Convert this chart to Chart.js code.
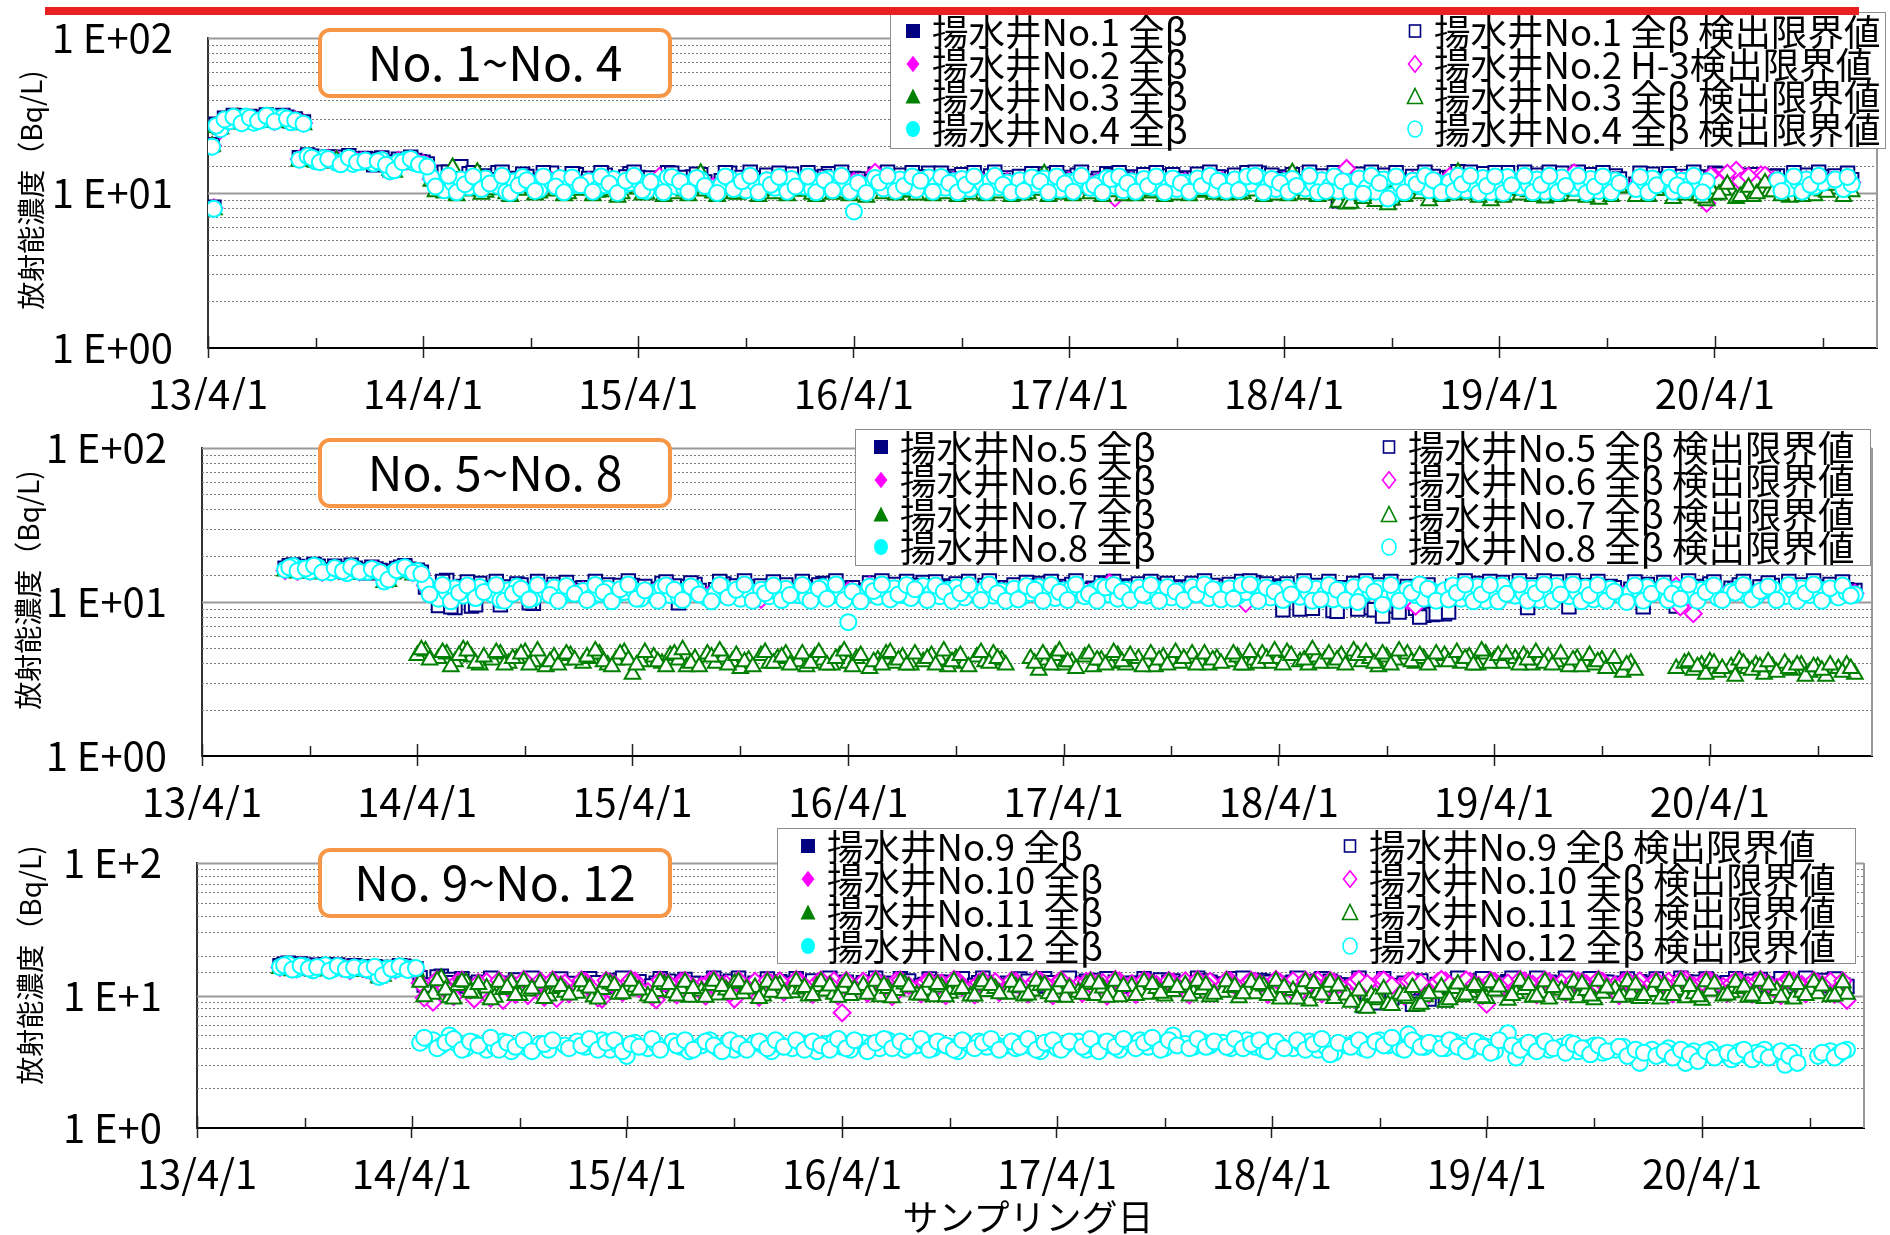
<!DOCTYPE html>
<html lang="ja">
<head>
<meta charset="utf-8">
<title>揚水井 全β 分析結果</title>
<script src="https://cdn.jsdelivr.net/npm/chart.js"></script>
<style>
  html, body { margin: 0; padding: 0; background: #fff; }
  body { position: relative; width: 1890px; height: 1235px; overflow: hidden;
         font-family: "Noto Sans CJK JP", sans-serif; color: #000; }
  .panel { position: absolute; left: 0; }
  .redline { position: absolute; left: 45px; top: 7px; width: 1814px; height: 8px; background: #e8201f; }
  .legend { position: absolute; background: #fff; border: 1.5px solid #8c8c8c; box-sizing: border-box; }
  .legend .item { position: absolute; height: 40px; display: flex; align-items: center; white-space: nowrap; }
  .legend .item span { font-size: 36.5px; line-height: 40px; margin-left: 10px; }
  .tag { position: absolute; left: 318px; width: 354px; height: 70px; box-sizing: border-box;
         border: 4px solid #f79646; border-radius: 12px; background: #fff;
         font-size: 48px; line-height: 57px; text-align: center; white-space: nowrap; }
  .ytitle { position: absolute; font-size: 28px; line-height: 1; white-space: nowrap;
            transform: translate(-50%, -50%) rotate(-90deg); }
  .xtitle { position: absolute; left: 1028px; top: 1215px; font-size: 36px; line-height: 1;
            white-space: nowrap; transform: translate(-50%, -50%); }
</style>
</head>
<body>
<canvas id="c1" class="panel" width="1890" height="410" style="top:0px"></canvas>
<canvas id="c2" class="panel" width="1890" height="410" style="top:410px"></canvas>
<canvas id="c3" class="panel" width="1890" height="415" style="top:820px"></canvas>

<div class="tag" style="top:28px">No. 1~No. 4</div>
<div class="tag" style="top:438px">No. 5~No. 8</div>
<div class="tag" style="top:848px">No. 9~No. 12</div>

<div class="ytitle" style="left:30px; top:190px">放射能濃度（Bq/L)</div>
<div class="ytitle" style="left:27px; top:590px">放射能濃度（Bq/L)</div>
<div class="ytitle" style="left:29px; top:965px">放射能濃度（Bq/L)</div>
<div class="xtitle">サンプリング日</div>

<script>
// サンプリング日 (yy/m/d) — 1回目
const sampleDates = [
  "13/4/8","13/4/11","13/4/22","13/5/7","13/5/21","13/6/4","13/6/18","13/7/2","13/7/16","13/8/6","13/8/20","13/9/3","13/9/17","13/10/1","13/10/15","13/11/5","13/11/19","13/12/3","13/12/17",
  "14/1/7","14/1/21","14/2/4","14/2/18","14/3/4","14/3/18","14/4/1","14/4/15","14/5/7","14/5/21","14/6/4","14/6/18","14/7/2","14/7/16","14/8/6","14/8/20","14/9/3","14/9/17","14/10/1","14/10/15","14/11/5","14/11/19","14/12/3","14/12/17",
  "15/1/7","15/1/21","15/2/4","15/2/18","15/3/4","15/3/18","15/4/1","15/4/15","15/5/7","15/5/21","15/6/4","15/6/18","15/7/2","15/7/16","15/8/6","15/8/20","15/9/3","15/9/17","15/10/1","15/10/15","15/11/5","15/11/19","15/12/3","15/12/17",
  "16/1/7","16/1/21","16/2/4","16/2/18","16/3/4","16/3/18","16/4/1","16/4/15","16/5/7","16/5/21","16/6/4","16/6/18","16/7/2","16/7/16","16/8/6","16/8/20","16/9/3","16/9/17","16/10/1","16/10/15","16/11/5","16/11/19","16/12/3","16/12/17",
  "17/1/7","17/1/21","17/2/4","17/2/18","17/3/4","17/3/18","17/4/1","17/4/15","17/5/7","17/5/21","17/6/4","17/6/18","17/7/2","17/7/16","17/8/6","17/8/20","17/9/3","17/9/17","17/10/1","17/10/15","17/11/5","17/11/19","17/12/3","17/12/17",
  "18/1/7","18/1/21","18/2/4","18/2/18","18/3/4","18/3/18","18/4/1","18/4/15","18/5/7","18/5/21","18/6/4","18/6/18","18/7/2","18/7/16","18/8/6","18/8/20","18/9/3","18/9/17","18/10/1","18/10/15","18/11/5","18/11/19","18/12/3","18/12/17",
  "19/1/7","19/1/21","19/2/4","19/2/18","19/3/4","19/3/18","19/4/1","19/4/15","19/5/7","19/5/21","19/6/4","19/6/18","19/7/2","19/7/16","19/8/6","19/8/20","19/9/3","19/9/17","19/10/1","19/10/15","19/11/5","19/11/19","19/12/3","19/12/17",
  "20/1/7","20/1/21","20/2/4","20/2/18","20/3/4","20/3/18","20/4/1","20/4/15","20/5/7","20/5/21","20/6/4","20/6/18","20/7/2","20/7/16","20/8/6","20/8/20","20/9/3","20/9/17","20/10/1","20/10/15","20/11/5","20/11/19","20/12/3"
];
// サンプリング日 — 2回目 (各週の間)
const sampleDatesB = [
  "13/4/15","13/4/29","13/5/14","13/5/28","13/6/11","13/6/25","13/7/9","13/7/23","13/8/13","13/8/27","13/9/10","13/9/24","13/10/8","13/10/22","13/11/12","13/11/26","13/12/10","13/12/24",
  "14/1/14","14/1/28","14/2/11","14/2/25","14/3/11","14/3/25","14/4/8","14/4/22","14/5/14","14/5/28","14/6/11","14/6/25","14/7/9","14/7/23","14/8/13","14/8/27","14/9/10","14/9/24","14/10/8","14/10/22","14/11/12","14/11/26","14/12/10","14/12/24",
  "15/1/14","15/1/28","15/2/11","15/2/25","15/3/11","15/3/25","15/4/8","15/4/22","15/5/14","15/5/28","15/6/11","15/6/25","15/7/9","15/7/23","15/8/13","15/8/27","15/9/10","15/9/24","15/10/8","15/10/22","15/11/12","15/11/26","15/12/10","15/12/24",
  "16/1/14","16/1/28","16/2/11","16/2/25","16/3/11","16/3/25","16/4/8","16/4/22","16/5/14","16/5/28","16/6/11","16/6/25","16/7/9","16/7/23","16/8/13","16/8/27","16/9/10","16/9/24","16/10/8","16/10/22","16/11/12","16/11/26","16/12/10","16/12/24",
  "17/1/14","17/1/28","17/2/11","17/2/25","17/3/11","17/3/25","17/4/8","17/4/22","17/5/14","17/5/28","17/6/11","17/6/25","17/7/9","17/7/23","17/8/13","17/8/27","17/9/10","17/9/24","17/10/8","17/10/22","17/11/12","17/11/26","17/12/10","17/12/24",
  "18/1/14","18/1/28","18/2/11","18/2/25","18/3/11","18/3/25","18/4/8","18/4/22","18/5/14","18/5/28","18/6/11","18/6/25","18/7/9","18/7/23","18/8/13","18/8/27","18/9/10","18/9/24","18/10/8","18/10/22","18/11/12","18/11/26","18/12/10","18/12/24",
  "19/1/14","19/1/28","19/2/11","19/2/25","19/3/11","19/3/25","19/4/8","19/4/22","19/5/14","19/5/28","19/6/11","19/6/25","19/7/9","19/7/23","19/8/13","19/8/27","19/9/10","19/9/24","19/10/8","19/10/22","19/11/12","19/11/26","19/12/10","19/12/24",
  "20/1/14","20/1/28","20/2/11","20/2/25","20/3/11","20/3/25","20/4/8","20/4/22","20/5/14","20/5/28","20/6/11","20/6/25","20/7/9","20/7/23","20/8/13","20/8/27","20/9/10","20/9/24","20/10/8","20/10/22","20/11/12","20/11/26"
];

const xTickLabels = ["13/4/1","14/4/1","15/4/1","16/4/1","17/4/1","18/4/1","19/4/1","20/4/1"];
const xMinorTicks = ["13/10/1","14/10/1","15/10/1","16/10/1","17/10/1","18/10/1","19/10/1","20/10/1"];
const xMax = "21/1/1";
const yDecades = [1, 10, 100];
const yLabelsE2 = ["1 E+00", "1 E+01", "1 E+02"];
const yLabelsE1 = ["1 E+0", "1 E+1", "1 E+2"];

// 凡例
const p1Labels = ["揚水井No.1 全β", "揚水井No.2 全β", "揚水井No.3 全β", "揚水井No.4 全β",
  "揚水井No.1 全β 検出限界値", "揚水井No.2 H-3検出限界値", "揚水井No.3 全β 検出限界値", "揚水井No.4 全β 検出限界値"];
const p2Labels = ["揚水井No.5 全β", "揚水井No.6 全β", "揚水井No.7 全β", "揚水井No.8 全β",
  "揚水井No.5 全β 検出限界値", "揚水井No.6 全β 検出限界値", "揚水井No.7 全β 検出限界値", "揚水井No.8 全β 検出限界値"];
const p3Labels = ["揚水井No.9 全β", "揚水井No.10 全β", "揚水井No.11 全β", "揚水井No.12 全β",
  "揚水井No.9 全β 検出限界値", "揚水井No.10 全β 検出限界値", "揚水井No.11 全β 検出限界値", "揚水井No.12 全β 検出限界値"];

// 全β 検出値 (検出なし)
const p1Detect = [[], [], [], []];
const p2Detect = [[], [], [], []];
const p3Detect = [[], [], [], []];

// 全β 検出限界値 (Bq/L) — sampleDates の順
const no1Limit = [
  20.5,8.1,26.5,29.5,31.5,30.0, 29.0,30.8,30.2,31.6,29.1,16.9, 17.6,16.5,16.2,17.0,15.8,16.0, 16.6,
  15.2,16.8,14.1,16.5,15.9,16.2, 15.8,13.4,13.6,11.2,14.8,13.3, 11.6,12.9,13.5,11.0,12.4,13.2, 11.8,12.1,13.4,11.5,12.0,13.1,
  12.4,11.3,13.0,12.1,11.7,13.3, 12.6,11.1,12.2,13.5,11.9,11.4, 12.7,13.1,11.2,12.0,13.4,11.8, 11.3,12.5,13.0,11.6,12.3,13.2,
  11.8,11.4,12.6,13.3,11.6,12.1, 12.4,11.9,13.2,11.5,12.5,13.0, 11.7,11.3,13.4,12.2,11.6,12.8, 13.1,11.4,12.3,12.9,11.7,12.5,
  12.8,11.5,12.1,13.2,11.8,11.3, 12.6,13.0,11.6,12.4,13.3,11.9, 11.2,12.7,13.1,11.7,12.2,12.9, 11.4,12.5,13.2,12.0,11.3,12.6,
  13.0,11.6,12.3,13.4,11.8,11.4, 12.7,13.1,11.5,12.2,12.9,11.9, 8.9,12.6,13.2,11.7,10.9,13.0, 9.3,12.1,12.8,11.8,11.2,12.5,
  12.6,13.7,11.2,12.0,13.3,10.9, 12.4,13.5,11.7,12.1,13.0,11.0, 12.5,13.4,11.6,12.2,13.1,11.1, 12.7,12.9,null,11.4,12.6,13.2,
  12.3,11.0,12.8,12.1,11.6,12.7, 13.4,12.2,13.1,12.5,11.8,13.0, 12.6,12.9,11.5,12.6,13.0,11.8, 12.4,12.7,11.4,12.2,null
];
const no2Limit = [
  20.2,8.0,25.5,29.8,30.8,29.7, 28.8,30.4,30.9,30.1,28.9,16.6, 17.0,16.2,16.5,16.6,16.0,15.6, 16.1,
  15.6,16.5,13.9,16.2,16.1,15.9, 15.5,12.3,11.4,12.0,11.9,11.2, 12.1,11.7,11.5,10.8,11.6,12.2, 11.4,10.9,12.0,11.8,11.1,11.6,
  12.0,11.0,11.6,12.0,11.3,11.9, 12.2,10.9,12.8,12.3,11.4,11.1, 12.0,12.1,11.0,11.7,12.2,11.5, 10.9,11.9,12.0,11.3,11.8,12.1,
  11.4,11.1,12.0,12.2,11.3,11.6, 11.9,11.5,13.6,11.2,12.0,12.1, 11.5,11.0,12.4,11.8,11.3,12.0, 12.2,11.1,11.8,12.0,11.4,11.9,
  12.0,11.3,11.7,12.3,11.5,11.0, 12.0,12.1,11.2,11.8,12.3,9.3, 10.9,12.0,12.2,11.4,11.7,12.0, 11.1,11.9,12.2,11.6,11.0,12.0,
  12.1,11.3,11.8,12.4,11.5,11.1, 12.0,12.2,11.2,11.7,12.0,11.6, 10.9,14.4,12.2,11.4,11.9,12.0, 11.0,11.7,12.1,11.5,11.0,11.9,
  12.8,12.2,11.0,11.7,12.2,10.8, 11.9,12.3,11.3,11.8,12.1,10.9, 11.9,12.2,13.5,11.8,12.2,10.9, 12.0,12.1,null,11.2,12.0,12.3,
  12.0,10.9,12.1,11.8,11.3,8.6, 12.6,11.0,14.0,12.2,11.3,13.1, 11.6,12.0,11.1,11.9,12.2,11.2, 11.8,12.0,11.1,11.7,null
];
const no3Limit = [
  20.0,7.8,26.0,28.6,30.5,29.2, 29.6,30.1,30.6,29.5,28.4,16.0, 16.9,15.8,16.1,16.3,15.5,15.7, 15.3,
  15.4,16.0,14.0,15.6,16.0,15.4, 15.0,11.9,10.0,14.6,11.5,10.3, 13.6,10.1,11.3,9.9,10.6,11.6, 10.7,10.0,11.1,10.4,9.9,10.8,
  10.5,10.1,11.0,10.2,9.9,10.9, 10.6,9.8,10.7,11.1,9.9,10.3, 10.8,13.4,10.0,10.6,10.9,9.8, 10.2,11.0,10.4,9.9,10.7,11.2,
  10.3,9.8,10.8,11.1,10.0,10.5, 10.9,10.2,11.0,9.9,10.6,10.9, 10.1,9.7,11.2,10.4,9.9,10.8, 11.0,9.8,10.5,10.9,10.0,10.6,
  10.7,9.9,10.4,13.3,10.1,9.8, 10.6,10.9,9.9,10.5,11.1,10.2, 9.6,10.8,11.0,10.0,10.4,10.7, 9.7,10.6,11.0,10.1,9.8,10.5,
  10.8,9.9,10.3,11.2,10.0,9.7, 10.6,13.5,9.8,10.4,10.9,10.2, 8.7,8.5,10.8,9.6,8.8,10.6, 9.0,10.2,10.7,9.9,8.9,10.4,
  10.6,13.6,9.8,10.3,10.9,8.9, 10.4,11.0,9.7,10.2,10.8,9.3, 10.5,10.9,9.6,10.3,10.7,9.1, 10.6,10.8,null,9.5,10.5,10.9,
  10.4,9.2,10.8,10.3,9.6,8.9, 9.7,10.4,9.2,10.1,9.5,10.6, 10.2,10.7,9.4,10.5,10.9,9.6, 10.3,10.6,9.5,10.2,null
];
const no4Limit = [
  19.9,7.9,25.8,29.0,30.2,31.2, 28.4,29.6,31.3,30.8,28.6,16.4, 17.3,16.0,16.8,15.7,16.2,15.4, 15.9,
  15.5,16.3,13.8,15.9,16.4,15.6, 15.2,12.6,10.4,11.6,12.2,10.9, 11.8,12.4,11.1,10.2,11.9,12.7, 11.3,10.5,11.8,12.5,10.8,11.4,
  11.9,10.6,11.2,12.3,10.9,11.6, 12.0,10.3,11.4,12.6,11.0,10.7, 11.8,12.2,10.5,11.3,12.4,11.1, 10.4,11.7,12.1,10.8,11.5,12.3,
  11.0,10.6,11.9,12.4,10.9,11.3, 7.6,11.2,12.5,10.7,11.8,12.2, 11.0,10.5,12.6,11.4,10.8,11.9, 12.3,10.6,11.5,12.0,10.9,11.7,
  12.1,10.7,11.3,12.4,11.0,10.5, 11.8,12.2,10.8,11.6,12.5,11.1, 10.4,11.9,12.3,10.9,11.4,12.0, 10.6,11.7,12.4,11.2,10.5,11.8,
  12.2,10.8,11.5,12.6,11.0,10.6, 11.9,12.3,10.7,11.4,12.1,11.1, 10.3,11.8,12.4,10.9,10.2,12.2, 9.6,11.3,12.0,11.0,10.4,11.7,
  11.8,12.9,10.4,11.2,12.5,10.1, 11.6,12.7,10.9,11.3,12.2,10.2, 11.7,12.6,10.8,11.4,12.3,10.3, 11.9,12.1,null,10.6,11.8,12.4,
  11.5,10.2,12.0,11.3,10.8,11.9, null,null,null,null,null,null, null,12.1,10.7,11.8,12.2,11.0, 11.6,null,10.6,11.4,null
];
const no5Limit = [
  null,null,null,null,null,null, null,null,null,null,16.6,17.4, 16.0,16.2,17.1,16.0,15.8,15.9, 16.6,
  15.5,16.4,13.9,15.8,16.8,16.3, 16.1,12.5,9.5,13.8,9.2,12.6, 9.4,13.2,11.8,9.6,12.5,13.1, 11.9,9.8,12.3,13.0,11.4,12.2,
  12.4,11.2,12.0,12.9,11.6,12.3, 12.8,11.1,12.1,13.2,11.7,9.9, 12.6,13.0,11.2,12.0,13.1,11.8, 11.1,12.5,12.7,11.5,12.2,12.9,
  11.7,11.3,12.5,13.2,11.6,12.0, 12.3,11.9,13.3,11.4,12.6,13.0, 11.7,11.2,13.4,12.1,11.5,12.7, 13.1,11.3,12.2,12.8,11.6,12.4,
  12.9,11.4,12.0,13.2,11.7,11.2, 12.6,13.0,11.5,12.3,13.3,11.8, 11.1,12.7,13.1,11.6,12.1,12.8, 11.3,12.5,13.2,11.9,11.2,12.6,
  13.0,11.5,12.2,13.4,11.7,11.3, 12.7,13.1,9.0,12.0,12.8,11.8, 8.8,12.4,13.2,9.2,12.3,12.9, 9.4,11.9,12.6,9.1,8.2,8.3,
  8.4,12.6,11.0,11.7,13.2,10.6, 12.2,13.4,11.5,11.9,12.9,10.8, 12.3,13.5,9.3,12.0,12.8,10.7, 12.4,12.6,11.3,12.1,12.3,13.0,
  12.1,10.9,9.4,12.0,11.5,12.6, 13.1,11.2,12.3,12.9,11.6,11.4, 12.5,12.8,11.3,12.4,12.9,11.6, 12.2,12.5,11.2,12.0,11.9
];
const no6Limit = [
  null,null,null,null,null,null, null,null,null,null,16.0,16.9, 16.3,15.9,16.5,15.7,16.0,15.6, 16.1,
  15.9,16.2,13.9,15.6,16.3,15.8, 15.7,12.8,11.0,11.8,12.0,11.3, 12.0,12.2,11.5,10.9,11.8,12.3, 11.6,11.0,11.9,12.1,11.2,11.7,
  11.9,11.0,11.5,12.0,11.2,11.8, 12.0,11.0,11.6,12.2,12.6,11.1, 11.8,12.1,11.0,11.6,12.0,11.3, 10.9,11.8,10.4,11.1,11.7,12.0,
  11.3,11.0,11.8,12.1,11.2,11.6, 11.8,11.4,12.8,11.1,11.9,12.0, 11.4,11.0,12.2,11.6,11.1,11.9, 12.1,11.0,11.7,12.0,11.3,11.8,
  12.0,11.2,11.6,12.1,11.4,11.0, 11.9,12.0,11.1,11.7,12.2,13.3, 11.0,11.9,12.1,11.3,11.6,11.9, 11.0,11.8,12.1,11.5,10.9,11.9,
  12.0,11.2,9.8,12.2,11.4,11.0, 11.9,12.1,11.1,11.6,11.9,11.5, 10.8,11.8,12.0,11.3,11.8,11.9, 11.0,11.6,10.2,9.4,10.9,11.8,
  11.8,12.1,10.9,11.6,12.1,10.7, 11.8,12.2,11.2,11.7,12.0,10.8, 11.8,12.1,11.2,11.7,12.1,10.8, 11.9,12.0,11.1,11.6,11.9,12.2,
  11.9,10.8,12.7,10.2,8.4,11.9, 12.1,11.0,11.7,12.2,11.2,11.0, 11.8,12.1,11.1,11.8,12.0,11.3, 11.7,11.9,11.0,11.6,11.4
];
const no7Limit = [
  null,null,null,null,null,null, null,null,null,null,15.9,16.6, 16.1,15.5,16.2,15.3,15.7,15.2, 15.8,
  15.3,15.8,13.4,15.2,16.0,15.5, 4.5,4.8,4.3,4.6,4.1,4.9, 4.4,3.9,4.2,4.6,4.0,4.3, 4.7,4.1,3.8,4.4,4.2,4.5,
  4.0,4.3,4.6,3.9,4.2,4.7, 3.4,4.1,4.4,4.0,4.5,4.2, 3.8,4.3,4.6,4.0,4.4,4.1, 3.7,4.2,4.5,4.0,4.3,4.6,
  4.1,3.8,4.4,4.2,3.9,4.5, 4.0,4.3,3.7,4.2,4.6,4.0, 4.4,3.9,4.1,4.5,4.2,3.8, 4.3,4.0,4.4,4.1,4.6,4.2,
  null,null,4.3,3.6,4.2,4.5, 3.9,4.1,4.4,3.8,4.2,4.0, 4.5,3.9,4.3,4.1,3.8,4.4, 4.2,4.0,4.6,4.1,3.9,4.3,
  4.1,4.4,3.9,4.2,4.6,4.0, 4.3,4.7,4.1,3.9,4.4,4.2, 4.0,4.5,4.8,4.1,4.3,3.8, 4.4,4.2,4.6,4.0,4.3,4.1,
  4.5,4.2,4.0,4.4,3.9,4.6, 4.2,4.0,4.3,4.5,3.9,4.2, 4.4,4.1,3.8,4.3,4.0,3.9, 4.2,3.7,3.5,4.0,null,null,
  null,null,3.7,4.0,3.6,3.9, 4.1,3.5,3.8,4.2,3.7,3.9, 3.4,3.8,4.0,3.6,3.9,3.5, 3.8,3.3,3.7,3.9,3.4
];
const no8Limit = [
  null,null,null,null,null,null, null,null,null,null,16.2,17.1, 16.4,15.8,16.8,15.6,16.1,15.4, 16.3,
  15.7,16.0,13.6,15.4,16.5,16.0, 15.9,13.1,10.5,11.6,12.3,11.0, 11.8,12.5,11.2,10.3,11.9,12.6, 11.4,10.6,11.7,12.4,10.9,11.5,
  11.8,10.7,11.3,12.2,11.0,11.6, 12.1,10.5,11.5,12.5,11.1,10.8, 11.9,12.3,10.6,11.4,12.4,11.2, 10.5,11.8,12.0,10.9,11.6,12.2,
  11.1,10.7,11.8,12.5,11.0,11.4, 7.4,11.3,12.6,10.8,11.9,12.3, 11.1,10.6,12.7,11.5,10.9,12.0, 12.4,10.7,11.6,12.1,11.0,11.8,
  12.2,10.8,11.4,12.5,11.1,10.6, 11.9,12.3,10.9,11.7,12.6,11.2, 10.5,12.0,12.4,11.0,11.5,12.1, 10.7,11.8,12.5,11.3,10.6,11.9,
  12.3,10.9,11.6,12.7,11.1,10.7, 12.0,12.4,10.8,11.5,12.2,11.2, 10.4,11.9,12.5,11.0,11.7,12.3, 10.6,11.4,12.1,11.1,10.5,11.8,
  11.9,12.8,10.5,11.3,12.6,10.2, 11.7,12.8,11.0,11.4,12.3,10.3, 11.8,12.7,10.9,11.5,12.4,10.4, 12.0,12.2,10.8,11.6,11.9,12.5,
  11.6,10.3,12.1,11.4,10.9,12.0, 12.4,10.6,11.7,12.3,11.1,10.8, 11.9,12.2,10.9,11.9,12.3,11.1, 11.7,12.0,10.7,11.5,11.2
];
const no9Limit = [
  null,null,null,null,null,null, null,null,null,null,16.8,17.5, 16.2,16.9,16.0,17.1,16.3,16.5, 15.9,
  16.4,15.7,14.1,16.3,16.0,16.6, 16.1,13.6,11.6,14.0,13.2,11.8, 12.2,11.5,12.4,11.7,12.1,11.9, 12.3,11.6,12.0,11.8,12.5,11.9,
  12.0,12.6,11.7,12.3,12.1,11.8, 12.5,12.0,11.6,12.4,12.2,11.9, 12.6,11.7,12.3,12.0,11.8,12.5, 12.1,11.6,12.4,11.9,12.2,12.7,
  12.3,11.8,12.1,12.6,11.7,12.4, 12.0,11.9,12.5,12.2,11.6,12.3, 12.0,12.7,11.8,12.1,12.4,11.7, 12.6,12.0,11.9,12.5,12.2,11.8,
  12.4,11.9,12.2,12.7,11.8,12.1, 12.5,11.7,12.3,12.8,11.9,12.2, 12.6,11.8,12.4,12.0,11.7,12.5, 12.1,12.9,12.3,11.8,12.2,12.6,
  12.2,12.7,11.9,12.4,12.1,12.8, 11.8,12.3,12.6,11.9,12.2,12.8, 11.7,12.4,12.0,9.9,8.4,11.8, 10.5,9.1,11.9,10.3,9.0,11.5,
  12.1,9.3,12.4,12.0,12.6,12.9, 11.8,12.3,12.7,12.0,12.5,12.2, 11.9,12.6,12.4,12.1,12.8,11.9, 12.3,12.6,12.0,12.4,12.2,12.7,
  12.3,11.9,12.5,12.1,12.7,12.2, 11.8,12.6,12.3,11.9,12.5,12.1, 12.4,11.8,12.2,12.6,12.0,12.4, 12.8,12.1,11.9,12.5,11.7
];
const no10Limit = [
  null,null,null,null,null,null, null,null,null,null,16.3,17.0, 15.9,16.4,15.7,16.7,16.0,16.1, 15.4,
  16.0,15.3,14.0,15.9,15.6,16.2, 15.8,12.4,8.9,12.9,10.3,12.8, 11.9,9.4,12.7,10.8,9.2,12.6, 11.2,10.0,12.9,10.6,9.5,12.4,
  11.4,12.8,10.5,9.4,12.6,11.0, 12.2,12.9,10.7,9.3,12.5,11.3, 12.7,10.4,11.8,12.9,11.0,12.2, 9.4,11.6,12.8,10.8,12.3,12.9,
  11.5,12.7,10.9,12.4,11.8,12.9, 7.4,11.1,12.8,11.6,12.3,10.5, 12.9,11.9,11.2,12.6,10.9,12.4, 11.5,12.9,11.0,12.5,11.8,12.7,
  11.3,12.8,11.0,12.2,12.9,11.5, 12.4,10.8,11.9,12.8,11.2,12.5, 11.7,12.9,12.3,11.4,12.7,12.1, 11.0,12.6,12.9,11.6,12.3,12.8,
  11.7,12.9,11.1,12.4,12.8,12.0, 11.3,12.6,12.9,11.5,12.2,13.0, 11.8,12.5,11.2,12.7,12.3,11.6, 12.9,12.4,11.7,12.8,12.1,11.4,
  12.6,12.9,11.5,12.3,12.8,11.9, 8.6,12.7,12.4,11.6,12.9,12.2, 11.3,12.7,12.5,11.8,12.9,12.3, 11.4,12.8,12.0,12.6,11.7,12.9,
  12.4,11.6,12.8,12.2,13.1,11.8, 12.5,12.9,11.7,12.3,12.8,11.9, 12.6,12.2,11.5,12.7,12.9,12.1, 11.6,12.4,12.8,11.3,9.2
];
const no11Limit = [
  null,null,null,null,null,null, null,null,null,null,16.0,16.8, 15.6,16.2,15.3,16.5,15.6,15.9, 15.2,
  15.8,15.1,13.6,15.7,15.4,16.0, 15.6,12.6,10.2,13.5,9.6,11.9, 12.6,10.4,11.4,9.7,11.1,12.5, 10.0,10.8,12.4,9.9,11.3,10.6,
  10.4,11.8,9.8,11.1,12.2,10.2, 10.9,11.6,9.9,10.7,12.1,10.5, 11.3,9.7,10.8,11.9,10.1,11.0, 12.3,10.3,11.5,9.9,10.6,12.0,
  10.5,11.2,9.9,11.7,10.8,10.2, 11.4,10.0,11.9,10.6,9.8,11.3, 10.9,12.2,10.1,11.0,9.8,11.6, 10.4,11.1,9.9,12.0,10.7,11.3,
  10.2,11.6,9.9,10.8,11.9,10.3, 11.2,9.7,10.6,12.1,10.0,11.4, 10.5,9.8,11.7,10.9,10.2,11.3, 9.9,10.7,12.0,10.4,11.1,9.8,
  10.6,11.5,9.6,11.0,10.3,11.8, 10.0,9.4,10.9,11.2,9.1,10.5, 11.6,9.5,10.1,9.0,8.2,10.1, 9.3,8.6,10.2,9.5,8.3,9.8,
  10.4,8.9,11.3,9.8,10.6,11.5, 9.5,10.8,9.2,10.3,11.1,9.7, 10.5,9.4,11.0,10.1,9.6,10.9, 9.3,10.4,11.2,9.8,10.2,9.5,
  10.7,9.4,10.1,11.0,9.6,10.3, 9.2,10.8,9.9,10.5,11.3,9.7, 10.2,9.5,10.9,10.0,9.4,10.6, 11.1,10.3,9.8,10.5,10.2
];
const no12Limit = [
  null,null,null,null,null,null, null,null,null,null,16.4,17.2, 15.8,16.6,15.5,16.9,15.9,16.2, 15.6,
  16.1,15.4,13.8,16.0,15.7,16.3, 15.9,4.4,4.6,4.2,5.0,4.3, 4.0,4.4,3.9,4.1,4.5,3.8, 4.2,4.0,4.3,3.9,null,4.2,
  4.5,4.1,4.3,4.6,3.9,4.2, 3.5,4.4,4.0,4.3,null,4.5, 4.1,3.8,4.2,4.6,4.0,4.3, 3.9,4.1,4.4,4.2,3.8,4.3,
  4.0,4.4,4.1,3.8,4.3,4.5, 4.1,3.9,4.4,4.2,4.0,4.6, 4.3,3.9,4.2,4.4,4.0,4.3, 4.1,3.8,4.2,4.5,4.1,4.3,
  4.2,4.0,4.4,4.1,3.8,4.3, 4.0,4.2,4.5,3.9,4.1,4.4, 4.2,3.9,4.3,4.6,4.1,4.4, 4.0,5.0,4.3,4.1,4.5,4.2,
  4.4,4.0,4.3,4.6,4.1,3.9, 4.4,4.2,4.0,4.3,4.5,3.9, 4.1,3.7,4.2,4.4,4.0,4.3, 4.6,4.2,4.0,5.1,4.4,4.1,
  4.3,4.0,4.5,4.2,3.9,4.4, 4.1,3.8,5.2,3.4,4.2,4.0, 4.3,3.9,4.1,4.4,3.8,4.0, 4.2,3.7,3.9,4.1,3.6,3.1,
  3.9,3.6,4.0,3.7,3.1,3.8, 3.5,3.9,3.6,3.3,3.8,3.5, 3.7,3.9,3.6,3.0,3.7,null, null,3.5,3.8,3.6,3.9
];

// 全β 検出限界値 (Bq/L) — sampleDatesB の順
const no1LimitB = [
  27.8,30.4,31.6,28.9,31.2,29.9, 31.9,29.6,30.8,30.0,28.7,17.3, 16.3,17.1,15.9,17.4,16.3,16.7,
  16.5,15.8,14.4,16.3,17.0,15.9, 15.4,11.8,13.6,10.9,12.1,13.5, 11.2,12.2,13.6,10.8,11.9,12.8, 10.9,13.5,11.7,10.8,13.3,11.8,
  10.9,13.5,12.2,10.8,12.7,13.6, 11.1,12.5,10.8,13.4,12.6,10.9, 13.2,11.8,10.7,13.5,11.3,12.6, 13.6,10.8,12.0,13.4,10.9,11.7,
  13.5,10.8,12.8,11.1,13.6,10.9, 12.3,10.7,12.4,13.6,11.0,11.8, 13.5,12.7,10.9,13.4,12.3,10.8, 12.0,13.5,10.9,13.6,12.0,10.8,
  11.0,13.3,12.6,10.8,13.5,12.2, 10.9,13.6,11.9,10.8,13.0,13.5, 12.3,10.9,11.8,13.5,10.8,13.1, 12.3,10.9,11.8,13.6,12.7,11.0,
  11.1,13.5,13.6,10.8,13.0,12.3, 10.9,11.8,13.6,10.8,11.0,13.5, 12.6,10.9,9.6,13.6,12.3,9.0, 13.5,10.8,12.1,13.6,12.8,10.8,
  11.0,12.1,13.6,10.7,11.8,13.5, 10.7,11.9,13.6,10.8,12.0,13.6, 10.8,11.8,13.6,10.7,11.7,13.5, 10.8,12.3,null,13.4,10.8,11.9,
  13.3,11.9,11.1,13.6,10.8,12.5, 13.2,12.0,13.0,12.4,13.1,12.2, 12.8,11.0,13.5,10.9,12.0,13.6, 11.9,12.9,13.4,null
];
const no2LimitB = [
  27.0,29.6,30.6,28.5,30.2,29.4, 31.0,29.0,30.5,29.7,28.3,16.7, 16.0,16.8,15.6,16.6,16.0,16.3,
  15.9,15.5,14.2,16.0,16.4,15.6, 15.1,11.5,12.3,11.0,11.7,12.2, 11.1,11.8,12.4,10.9,11.6,12.0, 11.2,12.3,11.5,11.0,12.1,11.4,
  11.1,12.2,11.6,11.0,11.9,12.3, 11.2,11.8,11.0,12.2,11.7,11.1, 12.0,11.5,11.0,12.3,11.2,11.8, 12.3,11.0,11.5,12.1,11.1,11.6,
  12.2,11.0,11.8,11.2,12.3,11.1, 11.7,11.0,11.8,12.3,11.1,11.5, 12.2,11.9,11.0,12.1,11.7,11.0, 11.6,12.2,11.1,12.3,11.5,11.0,
  11.2,12.1,11.8,11.0,12.2,11.6, 11.1,12.3,11.5,11.0,11.9,12.2, 11.7,11.1,11.5,12.2,11.0,12.0, 11.6,11.1,11.5,12.3,11.8,11.2,
  11.3,12.2,12.3,11.0,11.9,11.6, 11.1,11.5,12.3,11.0,11.2,12.2, 11.8,11.1,10.9,12.3,11.7,10.6, 12.2,11.0,11.6,12.3,11.9,11.0,
  11.2,11.6,12.3,11.0,11.5,12.2, 11.0,11.6,12.3,11.1,11.6,12.3, 11.0,11.5,12.3,11.0,11.4,12.2, 11.1,11.7,null,12.2,11.1,11.6,
  12.2,11.5,11.1,12.3,9.5,12.9, 11.6,13.4,11.9,12.8,11.4,13.0, 12.1,11.2,12.3,11.1,11.6,12.3, 11.4,12.0,12.2,null
];
const no3LimitB = [
  26.5,29.1,30.2,27.9,29.9,28.8, 30.8,28.6,29.8,29.0,27.6,16.4, 15.6,16.3,15.2,16.5,15.5,15.9,
  15.7,15.0,13.6,15.6,16.2,15.1, 14.6,10.2,11.9,9.6,10.6,11.8, 9.8,10.5,11.9,9.5,10.4,11.2, 9.7,11.8,10.3,9.6,11.6,10.4,
  9.6,11.8,10.6,9.4,11.1,11.9, 9.7,10.9,9.5,11.7,11.0,9.6, 11.5,10.3,9.5,11.8,9.9,11.0, 11.9,9.5,10.5,11.7,9.6,10.3,
  11.8,9.5,11.2,9.8,11.9,9.6, 10.8,9.4,10.9,11.9,9.7,10.4, 11.8,11.1,9.6,11.7,10.8,9.5, 10.5,11.8,9.6,11.9,10.5,9.5,
  9.7,11.6,11.0,9.5,11.8,10.7, 9.6,11.9,10.4,9.5,11.3,11.8, 10.8,9.6,10.3,11.8,9.5,11.4, 10.8,9.6,10.3,11.9,11.1,9.7,
  9.8,11.8,11.9,9.5,11.3,10.8, 9.6,10.4,11.9,9.5,9.7,11.8, 11.0,8.6,9.2,11.9,10.8,8.4, 11.8,9.5,10.6,11.9,11.2,9.5,
  9.7,10.6,11.9,9.4,10.3,11.8, 9.4,10.4,11.9,9.5,10.5,11.9, 9.5,10.3,11.9,9.4,10.2,11.8, 9.5,10.8,null,11.7,9.5,10.4,
  11.6,10.4,9.7,11.9,9.3,10.6, 9.8,11.4,9.5,10.9,9.9,11.6, 10.2,9.6,11.8,9.5,10.5,11.9, 10.1,11.2,11.7,null
];
const no4LimitB = [
  27.2,29.8,31.0,28.2,30.6,29.1, 31.5,28.9,30.2,29.4,28.0,16.9, 15.8,16.6,15.3,16.9,15.8,16.2,
  16.0,15.2,14.0,15.8,16.6,15.3, 14.8,11.0,12.9,10.1,11.4,12.8, 10.6,11.5,12.9,10.0,11.2,12.1, 10.3,12.8,11.0,10.1,12.6,11.2,
  10.2,12.8,11.5,10.0,12.0,12.9, 10.4,11.8,10.1,12.7,11.9,10.2, 12.5,11.1,10.0,12.8,10.6,11.9, 12.9,10.1,11.3,12.7,10.2,11.0,
  12.8,10.1,12.1,10.4,12.9,10.2, 11.6,10.0,11.7,12.9,10.3,11.1, 12.8,12.0,10.2,12.7,11.6,10.1, 11.3,12.8,10.2,12.9,11.3,10.1,
  10.3,12.6,11.9,10.1,12.8,11.5, 10.2,12.9,11.2,10.1,12.3,12.8, 11.6,10.2,11.1,12.8,10.1,12.4, 11.6,10.2,11.1,12.9,12.0,10.3,
  10.4,12.8,12.9,10.1,12.3,11.6, 10.2,11.1,12.9,10.1,10.3,12.8, 11.9,10.2,9.9,12.9,11.6,9.2, 12.8,10.1,11.4,12.9,12.1,10.1,
  10.3,11.4,12.9,10.0,11.1,12.8, 10.0,11.2,12.9,10.1,11.3,12.9, 10.1,11.1,12.9,10.0,11.0,12.8, 10.1,11.6,null,12.7,10.1,11.2,
  12.6,11.2,10.4,12.9,10.1,null, null,null,null,null,null,null, null,10.3,12.8,10.2,11.3,12.9, null,12.2,12.7,null
];
const no5LimitB = [
  null,null,null,null,null,null, null,null,null,17.2,16.4,17.0, 17.5,16.2,17.1,16.4,17.3,16.1,
  16.8,16.0,14.4,16.5,17.2,15.9, 15.6,11.9,13.6,9.3,12.2,13.5, 9.6,12.3,13.6,10.9,12.0,12.9, 9.9,13.6,11.8,10.9,13.4,11.9,
  11.0,13.6,12.3,10.9,12.8,13.7, 11.2,12.6,10.9,13.5,12.7,11.0, 13.3,11.9,10.8,13.6,11.4,12.7, 13.7,10.9,12.1,13.5,11.0,11.8,
  13.6,10.9,12.9,11.2,13.7,11.0, 12.4,10.8,12.5,13.7,11.1,11.9, 13.6,12.8,11.0,13.5,12.4,10.9, 12.1,13.6,11.0,13.7,12.1,10.9,
  11.1,13.4,12.7,10.9,13.6,12.3, 11.0,13.7,12.0,10.9,13.1,13.6, 12.4,11.0,11.9,13.6,10.9,13.2, 12.4,11.0,11.9,13.7,12.8,11.1,
  11.2,13.6,13.7,10.9,13.1,12.4, 8.9,11.9,13.7,9.1,11.1,13.6, 8.7,11.0,9.0,13.7,8.9,8.1, 13.6,8.6,12.2,8.0,12.9,8.4,
  8.6,12.2,13.7,10.8,11.9,13.6, 10.8,12.0,13.7,9.2,12.1,13.7, 10.9,11.9,13.7,10.8,11.8,13.6, 10.9,12.4,10.7,13.5,9.3,12.0,
  13.4,12.0,11.2,13.7,10.9,12.3, 13.5,11.0,12.2,13.6,11.1,12.5, 13.3,11.0,13.6,10.9,12.1,13.7, 10.9,13.0,13.5,11.7
];
const no6LimitB = [
  null,null,null,null,null,null, null,null,null,16.5,15.8,16.4, 16.9,15.6,16.4,15.8,16.6,15.7,
  16.1,15.7,14.1,16.0,16.5,15.6, 15.3,11.6,12.3,11.1,11.8,12.2, 11.2,11.9,12.3,11.0,11.7,12.0, 11.1,12.3,11.6,11.0,12.2,11.6,
  11.1,12.3,11.8,11.0,12.0,12.3, 11.2,11.9,11.1,12.2,11.8,11.2, 12.1,11.6,11.0,12.3,11.3,11.9, 12.3,11.1,11.6,12.2,11.1,11.5,
  12.3,11.1,11.9,11.2,12.3,11.1, 11.7,11.0,11.8,12.3,11.2,11.6, 12.2,11.9,11.1,12.2,11.7,11.1, 11.6,12.2,11.2,12.3,11.6,11.1,
  11.2,12.1,11.9,11.1,12.2,11.7, 11.1,12.3,11.6,11.1,11.9,12.2, 11.7,11.2,11.5,12.2,11.1,12.0, 11.7,11.1,11.6,12.3,11.8,11.2,
  11.3,12.2,12.3,11.0,11.9,11.7, 11.1,11.6,12.3,11.1,11.2,12.2, 11.9,11.1,10.9,12.3,11.7,10.7, 12.2,11.1,11.6,12.3,11.9,11.1,
  11.2,11.6,12.3,11.1,11.5,12.2, 11.0,11.6,12.3,11.1,11.6,12.3, 11.0,11.5,12.3,11.1,11.5,12.2, 11.1,11.7,11.0,12.2,11.2,11.6,
  12.2,11.5,9.3,12.9,11.2,11.7, 12.2,11.1,11.6,12.3,11.1,11.8, 12.1,11.1,12.3,11.0,11.6,12.3, 11.1,12.0,12.2,11.4
];
const no7LimitB = [
  null,null,null,null,null,null, null,null,null,16.3,15.4,16.0, 16.5,15.2,16.1,15.4,16.3,15.1,
  15.8,15.2,13.6,15.7,16.2,15.0, 4.9,4.2,4.7,3.8,4.5,4.8, 4.0,4.4,4.7,3.9,4.3,4.6, 3.9,4.8,4.1,3.9,4.6,4.2,
  4.4,4.8,4.1,3.8,4.6,4.2, 3.9,4.7,4.1,3.8,4.6,4.9, 4.0,3.8,4.4,4.8,3.9,4.5, 4.1,3.8,4.7,4.0,4.4,3.9,
  4.6,4.0,4.7,3.9,4.3,4.8, 3.8,4.5,4.1,3.9,4.7,4.2, 3.9,4.6,4.3,3.9,4.8,4.1, 4.5,3.8,4.7,4.0,4.3,3.9,
  null,null,4.0,4.6,3.9,4.8, 4.1,3.7,4.6,4.2,3.9,4.7, 4.1,4.5,3.8,4.6,4.2,3.9, 4.7,4.3,3.9,4.6,4.2,4.0,
  4.6,3.9,4.7,4.0,4.3,4.8, 3.9,4.5,4.2,4.9,4.0,4.6, 4.2,3.9,4.5,4.7,4.0,4.6, 3.9,4.8,4.1,4.5,3.9,4.6,
  4.1,4.7,4.3,3.9,4.8,4.0, 4.5,4.6,3.9,4.2,4.7,4.0, 3.9,4.6,4.2,3.8,4.5,4.1, 3.7,4.3,3.9,3.6,null,null,
  null,null,null,4.1,3.8,3.4, 4.0,3.7,3.3,4.0,3.6,3.8, 4.1,3.5,3.7,3.9,3.3,3.8, 3.6,3.9,3.5,3.7
];
const no8LimitB = [
  null,null,null,null,null,null, null,null,null,16.8,15.9,16.5, 17.2,15.6,16.6,15.9,16.9,15.7,
  16.4,15.6,14.0,16.1,16.8,15.5, 15.2,11.2,12.9,10.1,11.5,12.8, 10.6,11.6,12.9,10.2,11.3,12.2, 10.4,12.9,11.1,10.2,12.7,11.3,
  10.3,12.9,11.6,10.1,12.1,13.0, 10.5,11.9,10.2,12.8,12.0,10.3, 12.6,11.2,10.1,12.9,10.7,12.0, 13.0,10.2,11.4,12.8,10.3,11.1,
  12.9,10.2,12.2,10.5,13.0,10.3, 11.7,10.1,11.8,13.0,10.4,11.2, 12.9,12.1,10.3,12.8,11.7,10.2, 11.4,12.9,10.3,13.0,11.4,10.2,
  10.4,12.7,12.0,10.2,12.9,11.6, 10.3,13.0,11.3,10.2,12.4,12.9, 11.7,10.3,11.2,12.9,10.2,12.5, 11.7,10.3,11.2,13.0,12.1,10.4,
  10.5,12.9,13.0,10.2,12.4,11.7, 10.3,11.2,13.0,10.2,10.4,12.9, 12.0,10.3,10.0,13.0,11.7,9.6, 12.9,10.2,11.5,13.0,12.2,10.2,
  10.4,11.5,13.0,10.1,11.2,12.9, 10.1,11.3,13.0,10.2,11.4,13.0, 10.2,11.2,13.0,10.1,11.1,12.9, 10.2,11.7,10.0,12.8,10.2,11.3,
  12.7,11.3,10.5,13.0,10.2,11.6, 12.8,10.3,11.5,12.9,10.4,11.8, 12.6,10.3,12.9,10.2,11.4,13.0, 10.2,12.3,12.8,11.0
];
const no9LimitB = [
  null,null,null,null,null,null, null,null,null,17.2,16.6,17.3, 16.4,16.9,16.2,17.0,16.5,16.8,
  16.0,16.5,14.5,16.2,16.8,16.3, 15.9,12.0,13.8,11.7,12.5,13.4, 11.9,12.6,13.5,11.8,12.4,13.1, 11.9,13.5,12.2,11.8,13.3,12.3,
  11.9,13.4,12.5,11.8,13.0,13.5, 12.0,12.7,11.8,13.4,12.8,11.9, 13.2,12.3,11.8,13.5,12.1,12.8, 13.5,11.9,12.4,13.3,11.9,12.3,
  13.4,11.9,12.9,12.0,13.5,11.9, 12.6,11.8,12.6,13.5,12.0,12.3, 13.4,12.9,11.9,13.3,12.6,11.9, 12.4,13.4,11.9,13.5,12.4,11.9,
  12.0,13.3,12.8,11.9,13.4,12.5, 11.9,13.5,12.3,11.9,13.0,13.4, 12.6,11.9,12.3,13.4,11.9,13.1, 12.6,11.9,12.3,13.5,12.9,12.0,
  12.1,13.4,13.5,11.9,13.0,12.6, 11.9,12.3,13.5,11.9,12.0,13.4, 12.8,12.0,10.8,13.5,9.2,8.8, 13.4,9.6,12.4,8.6,12.9,9.4,
  11.9,12.4,13.5,11.8,12.2,13.4, 11.8,12.3,13.5,11.9,12.4,13.5, 11.9,12.2,13.5,11.8,12.1,13.4, 11.9,12.6,11.8,13.3,11.9,12.3,
  13.3,12.3,11.9,13.5,11.9,12.6, 13.3,11.9,12.5,13.4,12.0,12.8, 13.2,11.9,13.4,11.8,12.4,13.5, 11.9,13.0,13.3,12.0
];
const no10LimitB = [
  null,null,null,null,null,null, null,null,null,16.6,15.8,16.9, 16.2,16.5,15.9,16.7,16.1,16.4,
  15.7,16.1,14.3,15.8,16.5,16.0, 15.6,9.6,13.2,11.4,9.8,13.1, 11.0,12.5,9.5,13.0,11.8,10.2, 13.2,11.5,9.7,13.1,12.0,10.3,
  13.1,11.7,9.6,13.0,12.2,10.5, 13.2,11.3,9.8,13.1,12.4,10.1, 13.0,11.6,9.9,13.2,12.0,10.4, 13.1,11.5,9.7,13.0,12.3,10.6,
  13.2,11.8,10.2,13.1,12.1,9.9, 13.0,11.4,10.4,13.2,12.2,9.8, 13.1,11.9,10.3,13.0,12.4,10.0, 13.2,11.6,10.1,13.1,12.2,10.5,
  13.0,11.9,10.3,13.2,12.3,10.0, 13.1,11.7,10.4,13.0,12.5,9.9, 13.2,12.0,10.2,13.1,12.4,10.6, 13.0,11.8,10.1,13.2,12.3,10.4,
  13.1,12.0,10.5,13.0,12.4,10.2, 13.2,11.8,10.0,13.1,12.6,10.3, 13.0,12.1,9.8,13.2,12.3,10.4, 13.1,11.9,9.9,13.0,12.5,10.2,
  13.2,12.1,10.4,13.1,12.2,10.0, 13.0,11.9,10.3,13.2,12.4,10.1, 13.1,12.0,10.5,13.0,12.6,10.2, 13.2,11.8,10.0,13.1,12.3,10.4,
  13.0,12.2,10.3,13.2,12.0,10.1, 13.1,12.5,10.4,13.0,11.9,10.2, 13.2,12.3,10.0,13.1,12.4,10.3, 13.0,12.1,10.2,12.9
];
const no11LimitB = [
  null,null,null,null,null,null, null,null,null,16.2,15.4,16.5, 15.8,16.1,15.5,16.3,15.7,16.0,
  15.4,15.9,14.0,15.5,16.1,15.7, 15.2,9.8,12.9,11.0,9.4,12.7, 10.6,12.1,9.3,12.6,11.5,10.0, 12.8,11.2,9.5,12.7,11.7,10.1,
  12.7,11.4,9.4,12.6,11.9,10.3, 12.8,11.0,9.6,12.7,12.1,9.9, 12.6,11.3,9.7,12.8,11.7,10.2, 12.7,11.2,9.5,12.6,12.0,10.4,
  12.8,11.5,10.0,12.7,11.8,9.7, 12.6,11.1,10.2,12.8,11.9,9.6, 12.7,11.6,10.1,12.6,12.1,9.8, 12.8,11.3,9.9,12.7,11.9,10.3,
  12.6,11.6,10.1,12.8,12.0,9.8, 12.7,11.4,10.2,12.6,12.2,9.7, 12.8,11.7,10.0,12.7,12.1,10.4, 12.6,11.5,9.9,12.8,12.0,10.2,
  12.7,11.7,10.3,12.6,12.1,10.0, 12.8,11.5,9.4,12.7,12.3,10.1, 12.6,11.8,8.9,10.8,8.0,9.6, 11.2,8.4,9.9,11.5,8.6,10.3,
  11.6,9.3,12.2,10.1,11.9,9.6, 12.5,11.6,10.0,12.8,11.9,9.8, 12.7,11.5,10.2,12.6,12.2,9.9, 12.8,11.4,9.7,12.7,12.0,10.0,
  12.6,11.9,10.0,12.8,11.7,9.8, 12.7,12.2,10.1,12.6,11.6,9.9, 12.8,12.0,9.7,12.7,12.1,10.0, 12.6,11.8,9.9,12.5
];
const no12LimitB = [
  null,null,null,null,null,null, null,null,null,16.9,15.7,16.8, 16.0,16.4,15.4,16.7,15.8,16.3,
  15.8,16.5,14.2,15.9,16.6,15.6, 16.1,4.8,4.0,4.4,4.7,3.9, 4.5,4.2,4.8,3.9,4.4,4.1, 4.6,3.8,4.3,4.6,null,4.0,
  4.2,4.7,3.9,4.4,4.6,3.8, 4.3,4.1,4.7,3.9,null,4.2, 4.6,3.9,4.5,4.2,3.8,4.6, 4.3,3.9,4.5,4.0,4.6,4.1,
  4.6,3.9,4.5,4.2,3.9,4.7, 4.0,4.6,3.8,4.4,4.7,4.0, 4.5,4.1,4.7,3.9,4.5,4.2, 3.9,4.6,4.0,4.4,4.7,3.9,
  4.5,4.1,4.7,3.9,4.4,4.6, 3.9,4.5,4.1,4.7,3.8,4.5, 4.1,4.7,4.0,4.4,4.8,3.9, 4.6,4.2,4.0,4.7,4.1,4.5,
  4.1,4.7,4.0,4.3,4.6,3.8, 4.5,4.0,4.6,3.9,4.3,4.7, 3.6,4.4,4.1,4.6,3.9,4.5, 4.2,4.8,3.9,4.6,4.1,4.4,
  4.0,4.6,4.1,3.8,4.5,4.1, 3.7,4.6,4.2,3.9,4.4,3.8, 4.5,4.0,3.7,4.3,4.0,3.6, 4.2,3.8,4.1,3.5,3.9,3.7,
  3.5,3.8,3.4,3.9,3.6,3.2, 3.8,3.4,3.7,3.5,3.9,3.3, 3.6,3.4,3.8,3.5,3.1,null, null,3.7,3.4,3.8
];

// 井戸ごとのマーカー (紺 四角, 桃 ひし形, 緑 三角, 水色 丸)
const wellStyles = [
  { color: "#000080", shape: "rect", radius: 9.5, order: 4 },
  { color: "#ff00ff", shape: "rectRot", radius: 8.5, order: 3 },
  { color: "#008000", shape: "triangle", radius: 9, order: 2 },
  { color: "#00ffff", shape: "circle", radius: 8, order: 1 }
];

const T0 = Date.UTC(2013, 3, 1);
function toDay(s) {
  const p = s.split("/").map(Number);
  return (Date.UTC(2000 + p[0], p[1] - 1, p[2]) - T0) / 86400000;
}
const sampleDays = sampleDates.map(toDay);
const sampleDaysB = sampleDatesB.map(toDay);
const majorDays = xTickLabels.map(toDay);
const allTickDays = majorDays.concat(xMinorTicks.map(toDay)).sort(function (a, b) { return a - b; });

function toPoints(vals, days) {
  const out = [];
  for (let i = 0; i < vals.length; i++) {
    if (vals[i] !== null && vals[i] !== undefined) out.push({ x: days[i], y: vals[i] });
  }
  return out;
}

const tickSize = 40;
const panels = [
  { canvas: "c1", height: 410, plotTop: 38, plotBottom: 348, plotLeft: 208, plotRight: 1877,
    yLabels: yLabelsE2, labels: p1Labels, detect: p1Detect,
    limit: [no1Limit, no2Limit, no3Limit, no4Limit], limitB: [no1LimitB, no2LimitB, no3LimitB, no4LimitB],
    legend: { left: 890, top: 12, width: 996, height: 137, cols: [22, 524], row0: 19.7, step: 32.8 } },
  { canvas: "c2", height: 410, plotTop: 38, plotBottom: 346, plotLeft: 202, plotRight: 1872,
    yLabels: yLabelsE2, labels: p2Labels, detect: p2Detect,
    limit: [no5Limit, no6Limit, no7Limit, no8Limit], limitB: [no5LimitB, no6LimitB, no7LimitB, no8LimitB],
    legend: { left: 855, top: 429, width: 1016, height: 137, cols: [25, 533], row0: 19, step: 33.4 } },
  { canvas: "c3", height: 415, plotTop: 43, plotBottom: 308, plotLeft: 197, plotRight: 1864,
    yLabels: yLabelsE1, labels: p3Labels, detect: p3Detect,
    limit: [no9Limit, no10Limit, no11Limit, no12Limit], limitB: [no9LimitB, no10LimitB, no11LimitB, no12LimitB],
    legend: { left: 777, top: 828, width: 1079, height: 136, cols: [30, 572], row0: 18.7, step: 33.3 } }
];

// 目盛線 (対数の補助線は点線), 枠, 内向きの目盛
const framePlugin = {
  id: "frame",
  beforeDatasetsDraw: function (chart) {
    const ctx = chart.ctx, a = chart.chartArea, x = chart.scales.x, y = chart.scales.y;
    ctx.save();
    y.ticks.forEach(function (t) {
      if (t.value <= 1) return;
      const py = Math.round(y.getPixelForValue(t.value)) + 0.5;
      const dec = yDecades.indexOf(t.value) >= 0;
      ctx.beginPath();
      ctx.setLineDash(dec ? [] : [2, 2]);
      ctx.strokeStyle = dec ? "#9a9a9a" : "#7a7a7a";
      ctx.lineWidth = dec ? 2 : 1;
      ctx.moveTo(a.left, py);
      ctx.lineTo(a.right, py);
      ctx.stroke();
    });
    ctx.setLineDash([]);
    ctx.strokeStyle = "#9a9a9a";
    ctx.lineWidth = 2;
    ctx.beginPath();
    ctx.moveTo(a.right, a.top);
    ctx.lineTo(a.right, a.bottom);
    ctx.stroke();
    ctx.strokeStyle = "#222";
    ctx.lineWidth = 1.5;
    x.ticks.forEach(function (t) {
      const px = Math.round(x.getPixelForValue(t.value)) + 0.5;
      const len = majorDays.indexOf(t.value) >= 0 ? 12 : 10;
      ctx.beginPath();
      ctx.moveTo(px, a.bottom);
      ctx.lineTo(px, a.bottom - len);
      ctx.stroke();
    });
    ctx.restore();
  }
};

function makeChart(p) {
  const datasets = [];
  for (let i = 0; i < 4; i++) {
    const st = wellStyles[i];
    datasets.push({
      label: p.labels[i], data: toPoints(p.detect[i], sampleDays), order: 0,
      pointStyle: st.shape, pointRadius: st.radius,
      pointBackgroundColor: st.color, pointBorderColor: st.color, pointBorderWidth: 1
    });
    datasets.push({
      label: p.labels[i + 4],
      data: toPoints(p.limit[i], sampleDays).concat(toPoints(p.limitB[i], sampleDaysB)),
      order: st.order,
      pointStyle: st.shape, pointRadius: st.radius,
      pointBackgroundColor: "#ffffff", pointBorderColor: st.color, pointBorderWidth: 2
    });
  }
  const tickFont = { family: "Noto Sans CJK JP", size: tickSize };
  new Chart(document.getElementById(p.canvas), {
    type: "scatter",
    data: { datasets: datasets },
    options: {
      responsive: false,
      animation: false,
      devicePixelRatio: 1,
      events: [],
      layout: { padding: { top: p.plotTop, right: 1890 - p.plotRight, left: 0, bottom: 0 } },
      plugins: { legend: { display: false }, tooltip: { enabled: false } },
      scales: {
        x: {
          type: "linear", min: 0, max: toDay(xMax),
          afterBuildTicks: function (scale) {
            scale.ticks = allTickDays.map(function (v) { return { value: v }; });
          },
          afterFit: function (scale) { scale.height = p.height - p.plotBottom; },
          grid: {
            display: true, drawOnChartArea: false, drawTicks: true, tickLength: 10, tickWidth: 1.5,
            tickColor: function (c) {
              return c.tick && majorDays.indexOf(c.tick.value) >= 0 ? "#222" : "rgba(0,0,0,0)";
            }
          },
          border: { display: true, color: "#000", width: 2 },
          ticks: {
            autoSkip: false, maxRotation: 0, minRotation: 0, padding: 12, color: "#000", font: tickFont,
            callback: function (v) {
              const k = majorDays.indexOf(v);
              return k >= 0 ? xTickLabels[k] : "";
            }
          }
        },
        y: {
          type: "logarithmic", min: 1, max: 100,
          afterFit: function (scale) {
            // fixed axis width; the end labels should not push the plot area in
            scale.width = p.plotLeft;
            scale.paddingTop = 0;
            scale.paddingBottom = 0;
          },
          grid: { display: false, drawTicks: false },
          border: { display: true, color: "#333", width: 2 },
          ticks: {
            autoSkip: false, padding: 35, color: "#000", font: tickFont,
            callback: function (v) {
              const k = yDecades.indexOf(v);
              return k >= 0 ? p.yLabels[k] : "";
            }
          }
        }
      }
    },
    plugins: [framePlugin]
  });
}

function markerSvg(shape, color, filled) {
  const fill = filled ? color : "#fff";
  const sw = filled ? 0 : 1.6;
  let body;
  if (shape === "rect") body = filled ? '<rect x="2" y="2" width="14" height="14"/>' : '<rect x="3.5" y="3" width="11" height="12"/>';
  else if (shape === "rectRot") body = '<polygon points="9,0.8 15.5,9 9,17.2 2.5,9"/>';
  else if (shape === "triangle") body = '<polygon points="9,1.5 16.5,16.5 1.5,16.5"/>';
  else body = '<ellipse cx="9" cy="9" rx="7" ry="8"/>';
  return '<svg width="18" height="18" viewBox="0 0 18 18"><g fill="' + fill + '" stroke="' + color +
    '" stroke-width="' + sw + '">' + body + '</g></svg>';
}

function makeLegend(p) {
  const g = p.legend;
  const box = document.createElement("div");
  box.className = "legend";
  box.style.left = g.left + "px";
  box.style.top = g.top + "px";
  box.style.width = g.width + "px";
  box.style.height = g.height + "px";
  for (let col = 0; col < 2; col++) {
    for (let row = 0; row < 4; row++) {
      const st = wellStyles[row];
      const item = document.createElement("div");
      item.className = "item";
      item.style.left = (g.cols[col] - 9) + "px";
      item.style.top = (g.row0 + row * g.step - 22) + "px";
      item.innerHTML = markerSvg(st.shape, st.color, col === 0) + "<span>" + p.labels[col * 4 + row] + "</span>";
      box.appendChild(item);
    }
  }
  document.body.appendChild(box);
}

panels.forEach(function (p) {
  makeChart(p);
  makeLegend(p);
});

const red = document.createElement("div");
red.className = "redline";
document.body.appendChild(red);
</script>
</body>
</html>
